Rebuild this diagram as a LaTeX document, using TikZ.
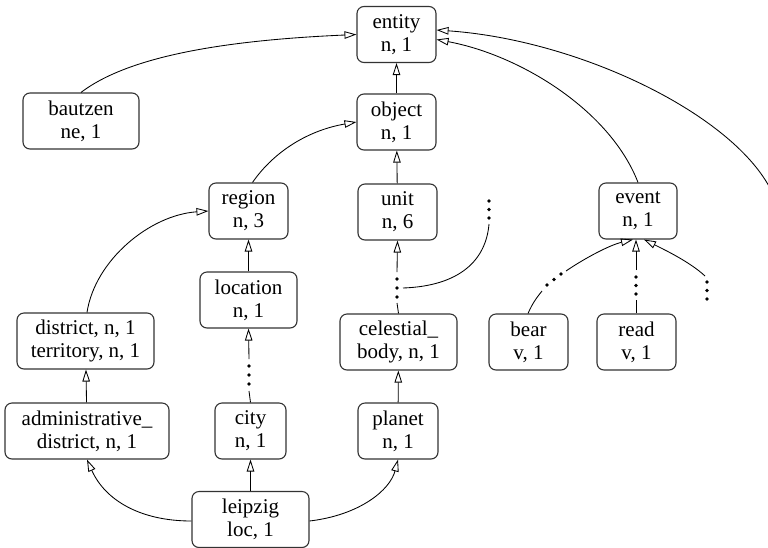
\documentclass[tikz,border=0pt]{standalone}
\usepackage{fontspec}
\setmainfont{Liberation Serif}
\usetikzlibrary{arrows.meta}
\begin{document}
\begin{tikzpicture}[x=1pt,y=1pt,
  box/.style={draw=black!80, line width=1.1pt, rounded corners=7pt, align=center,
    minimum height=56pt, inner sep=2pt, font=\fontsize{21}{23}\selectfont},
  conn/.style={line width=0.85pt},
  arr/.style={conn, -{Triangle[open, length=12pt, width=7.5pt, line width=0.85pt]}},
  dotfill/.style={fill=black}
]
\useasboundingbox (0,0) rectangle (768,-547);
% nodes
\node[box, minimum width=79pt] (entity) at (396.5,-34.5) {entity\\n, 1};
\node[box, minimum width=79pt] (object) at (396.5,-122) {object\\n, 1};
\node[box, minimum width=79pt] (unit) at (397.5,-212) {unit\\n, 6};
\node[box, minimum width=79pt] (region) at (248.5,-211) {region\\n, 3};
\node[box, minimum width=97pt] (location) at (248.5,-300) {location\\n, 1};
\node[box, minimum width=137pt] (district) at (85.5,-341) {district, n, 1\\territory, n, 1};
\node[box, minimum width=117pt] (cel) at (398.5,-342) {celestial\_\\body, n, 1};
\node[box, minimum width=79pt] (bear) at (528.5,-342) {bear\\v, 1};
\node[box, minimum width=79pt] (read) at (636.5,-342) {read\\v, 1};
\node[box, minimum width=78pt] (event) at (638,-211) {event\\n, 1};
\node[box, minimum width=116pt] (bautzen) at (81,-121) {bautzen\\ne, 1};
\node[box, minimum width=164pt] (admin) at (87,-431) {administrative\_\\district, n, 1};
\node[box, minimum width=71pt] (city) at (250.5,-431) {city\\n, 1};
\node[box, minimum width=80pt] (planet) at (398,-431) {planet\\n, 1};
\node[box, minimum width=117pt] (leipzig) at (250.5,-519.5) {leipzig\\loc, 1};

% dot groups
\foreach \x/\y in {489/-201,489/-209.5,489/-218,
                   397/-279,397/-288,397/-297,
                   249/-366,249/-375,249/-384,
                   547/-285,554/-279.5,561/-274,
                   636/-277,636/-285.5,636/-294,
                   707/-282,707/-290.5,707/-299,
                   770/-196,770/-205,770/-214}
  \fill[dotfill] (\x,\y) circle (1.9);

\coordinate (uDt) at (397,-272);
\coordinate (uDb) at (397,-303);
\coordinate (uDr) at (403,-288);
\coordinate (rDb) at (489,-224);
\coordinate (lDt) at (249,-359);
\coordinate (lDb) at (249,-391);
\coordinate (bDl) at (542,-291);
\coordinate (bDr) at (566,-271);
\coordinate (rdDt) at (636,-270);
\coordinate (rdDb) at (636,-300);
\coordinate (rtD) at (705,-276);
\coordinate (off) at (772,-192);

% straight arrows
\draw[arr] (object) -- (entity);
\draw[arr] (unit) -- (object);
\draw[arr] (location) -- (region);
\draw[arr] (admin) -- (district);
\draw[arr] (planet) -- (cel);
\draw[arr] (leipzig) -- (city);
\draw[arr] (uDt) -- (unit.south);
\draw[conn] (cel.north) -- (uDb);
\draw[arr] (lDt) -- (location.south);
\draw[conn] (city.north) -- (lDb);
\draw[arr] (rdDt) -- (event.south -| rdDt);
\draw[conn] (read.north -| rdDb) -- (rdDb);

% curves
\draw[arr] (bautzen.north) .. controls (130,-55) and (230,-40) .. (entity.west);
\draw[arr] (region.north) ++(4,0) .. controls (275,-150) and (310,-130) .. (object.west);
\draw[arr] (district.north) ++(1.5,0) .. controls (95,-260) and (150,-215) .. (region.west);
\draw[arr] (event.north) .. controls (610,-110) and (520,-55) .. ([yshift=-5pt]entity.east);
\draw[arr] (off) .. controls (735,-115) and (580,-40) .. ([yshift=4.5pt]entity.east);
\draw[arr] (leipzig.west) ++(0,-1.5) .. controls (140,-521) and (105,-500) .. (admin.south);
\draw[arr] (leipzig.east) ++(0,-1.5) .. controls (360,-515) and (390,-490) .. (planet.south);
\draw[conn] (uDr) .. controls (460,-286) and (486,-260) .. (rDb);
\draw[conn] ([xshift=-0.5pt]bear.north) .. controls (533,-302) and (538,-296) .. (bDl);
\draw[arr] (bDr) .. controls (585,-258) and (610,-245) .. ([xshift=-5pt]event.south);
\draw[arr] (rtD) .. controls (690,-262) and (665,-250) .. ([xshift=6pt]event.south);
\end{tikzpicture}
\end{document}
